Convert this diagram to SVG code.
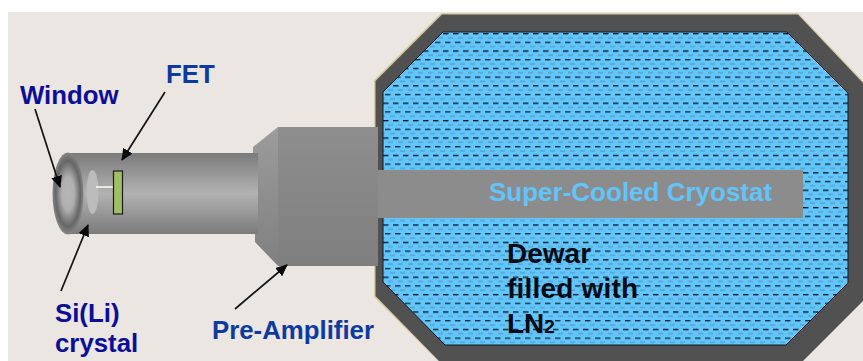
<svg xmlns="http://www.w3.org/2000/svg" width="863" height="361" viewBox="0 0 863 361">
<style>
.lbl{font-family:"Liberation Sans",Arial,sans-serif;font-weight:700;font-size:25.8px}
.navy{fill:#0b0f98}
.blue{fill:#0c3a9e}
.dewar{font-family:"Liberation Sans",Arial,sans-serif;font-weight:700;font-size:28px;fill:#050a14}
.lead{stroke:#141414;stroke-width:1.7;fill:none;marker-end:url(#head)}
</style>
<defs>
<marker id="head" markerUnits="userSpaceOnUse" markerWidth="14" markerHeight="12" refX="11" refY="5.5" orient="auto"><path d="M0 0L12 5.5L0 11z" fill="#0a0a0a"/></marker>
<linearGradient id="tube" x1="0" y1="0" x2="0" y2="1"><stop offset="0" stop-color="#7b7b7b"/><stop offset=".5" stop-color="#b2b2b2"/><stop offset="1" stop-color="#7b7b7b"/></linearGradient>
<linearGradient id="box" x1="0" y1="0" x2="0" y2="1"><stop offset="0" stop-color="#8e8e8e"/><stop offset="1" stop-color="#7f7f7f"/></linearGradient>
<linearGradient id="flare" x1="0" y1="0" x2="0" y2="1"><stop offset="0" stop-color="#9c9c9c"/><stop offset="1" stop-color="#808080"/></linearGradient>
<radialGradient id="win" cx=".5" cy=".5" r=".5"><stop offset="0" stop-color="#b6b6b6"/><stop offset=".4" stop-color="#b0b0b0"/><stop offset=".8" stop-color="#666666"/><stop offset="1" stop-color="#858585"/></radialGradient>
<pattern id="ln2" patternUnits="userSpaceOnUse" x="383" y="32" width="10" height="17.4">
<rect width="10" height="17.4" fill="#62c6fc"/>
<rect x="0" y="1" width="5.500" height="1.300" fill="#050f18"/>
<rect x="5" y="5.350" width="5" height="1" fill="#4d93bb"/>
<rect x="2" y="9.700" width="5.500" height="1.300" fill="#0c2636"/>
<rect x="7" y="14.050" width="3" height="1" fill="#4d93bb"/>
<rect x="0" y="14.050" width="2" height="1" fill="#4d93bb"/>
</pattern>
</defs>
<rect id="background" x="8" y="12" width="855" height="349" fill="#ebe6e2"/>
<g id="dewar">
<polygon points="441,13 798,13 863,81 863,299 802,361 438,361 374,297 374,80" fill="#d6cba4"/>
<polygon points="442,14.500 798,14.500 863,83 863,301 803,361 439,361 375.500,296 375.500,81" fill="#515151"/>
<polygon points="443,32 787,32 848,93 848,283 786,345 445,345 383,282 383,92" fill="url(#ln2)" stroke="#0f1a22" stroke-width="1"/>
</g>
<g id="cryostat">
<rect x="378" y="170" width="425" height="48" fill="#8c8c8c"/>
<text x="489" y="201" font-family="'Liberation Sans',Arial,sans-serif" font-weight="700" font-size="26px" fill="#62c4fb">Super-Cooled Cryostat</text>
</g>
<g id="dewar-label">
<text class="dewar" x="507" y="263">Dewar</text>
<text class="dewar" x="507" y="298" textLength="131">filled with</text>
<text class="dewar" x="507" y="333">LN<tspan font-size="19px">2</tspan></text>
</g>
<g id="pre-amplifier">
<polygon points="253,147 278,127 278,266 255,242 255,225 253,153" fill="url(#flare)"/>
<rect x="278" y="127" width="100" height="139" fill="url(#box)"/>
<text class="lbl blue" x="212" y="339">Pre-Amplifier</text>
</g>
<g id="tube-body">
<rect x="68" y="153" width="190" height="81" fill="url(#tube)"/>
</g>
<g id="window">
<ellipse cx="68" cy="193.500" rx="15.500" ry="41" fill="url(#win)"/>
<text class="lbl navy" x="20" y="104">Window</text>
</g>
<g id="crystal">
<ellipse cx="92.500" cy="192" rx="6" ry="22" fill="#bcbcbc"/>
<line x1="96" y1="187" x2="114" y2="187" stroke="#ffffee" stroke-width="1.500"/>
<text class="lbl navy" x="55" y="322">Si(Li)</text>
<text class="lbl navy" x="55" y="352">crystal</text>
</g>
<g id="fet">
<rect x="113.500" y="171" width="9" height="43" fill="#a0bd68" stroke="#1c1c1c" stroke-width="1.200"/>
<text class="lbl blue" x="166" y="83">FET</text>
</g>
<g id="connectors">
<line class="lead" x1="35" y1="109" x2="60" y2="187"/>
<line class="lead" x1="165" y1="92" x2="122" y2="160"/>
<line class="lead" x1="61" y1="291" x2="88" y2="225"/>
<line class="lead" x1="235" y1="309" x2="287" y2="265"/>
</g>
</svg>
